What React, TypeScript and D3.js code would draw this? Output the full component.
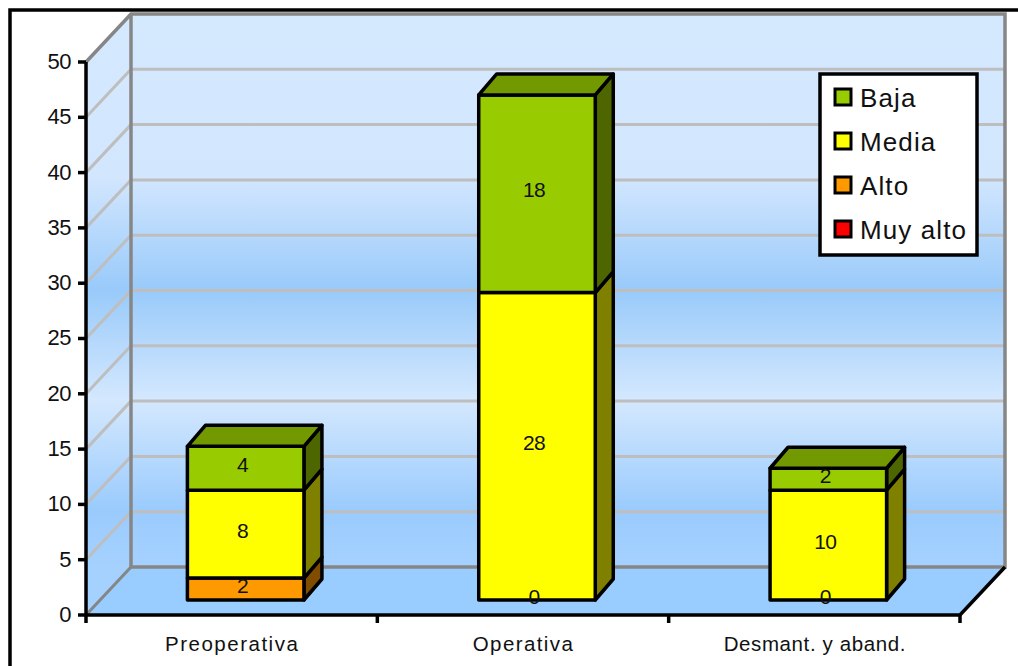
import * as d3 from 'd3';

const categories = ['Preoperativa', 'Operativa', 'Desmant. y aband.'];
const seriesNames = ['Muy alto', 'Alto', 'Media', 'Baja'];
const muyAlto = [0, 0, 0];
const alto = [2, 0, 0];
const media = [8, 28, 10];
const baja = [4, 18, 2];
const yTicks = [0, 5, 10, 15, 20, 25, 30, 35, 40, 45, 50];

const COLORS: Record<string, string> = { 'Muy alto': '#FF0000', Alto: '#FF9900', Media: '#FFFF00', Baja: '#99CC00' };
const SIDE: Record<string, string> = { 'Muy alto': '#800000', Alto: '#804D00', Media: '#808000', Baja: '#4D6600' };
const TOP: Record<string, string> = { 'Muy alto': '#BF0000', Alto: '#BF7300', Media: '#BFBF00', Baja: '#739900' };
const CAT_SPACING = [1.5, 1.4, 0.6];
const FONT = '"Liberation Sans", Arial, sans-serif';

const rows = categories.map((c, i) => ({ cat: c, 'Muy alto': muyAlto[i], Alto: alto[i], Media: media[i], Baja: baja[i] }));
const stacked = d3.stack<any>().keys(seriesNames)(rows);

const left = 86, right = 960, wallDx = 45, barDx = 18, barDy = 21;
const yFront = d3.scaleLinear().domain([0, 50]).range([615, 62]);
const yBack = d3.scaleLinear().domain([0, 50]).range([567, 14]);
const yBar = d3.scaleLinear().domain([0, 50]).range([600, 51]);
const xBand = d3.scaleBand<string>().domain(categories).range([left, right]);
const barW = xBand.bandwidth() * 0.4;
const barX = (c: string) => xBand(c)! + (xBand.bandwidth() - barW) / 2 + 14;
const poly = (pts: [number, number][]) => d3.line()(pts) + 'Z';

// Muy alto has no labels, every other segment prints its value, zeros included
const labelSeries: Record<string, boolean[]> = {
  'Muy alto': [false, false, false],
  Alto: [true, true, true],
  Media: [true, true, true],
  Baja: [true, true, true],
};

export default function App() {
  const wallGrad = [
    [14, '#D4E8FE'], [178, '#D2E6FE'], [290, '#99CAFA'], [400, '#D4E8FE'], [510, '#9ACBFD'], [567, '#A5D1FF'], [615, '#A5D1FF'],
  ] as [number, string][];
  const legend = [...seriesNames].reverse();
  const legendY = d3.scalePoint<string>().domain(legend).range([97, 229]);

  return (
    <svg width={1018} height={666} style={{ position: 'absolute', left: 0, top: 0, background: '#fff', fontFamily: FONT }}>
      <defs>
        <linearGradient id="wall" gradientUnits="userSpaceOnUse" x1={0} x2={0} y1={14} y2={615}>
          {wallGrad.map(([y, c]) => <stop key={y} offset={(y - 14) / 601} stopColor={c} />)}
        </linearGradient>
      </defs>

      {/* chart frame */}
      <path d="M10,666V10H1018" fill="none" stroke="#000" strokeWidth={3.5} />

      {/* walls and floor */}
      <path d={poly([[left + wallDx, yBack(50)], [right + wallDx, yBack(50)], [right + wallDx, yBack(0)], [left + wallDx, yBack(0)]])} fill="url(#wall)" />
      <path d={poly([[left, yFront(50)], [left + wallDx, yBack(50)], [left + wallDx, yBack(0)], [left, yFront(0)]])} fill="url(#wall)" />
      <path d={poly([[left, yFront(0)], [left + wallDx, yBack(0)], [right + wallDx, yBack(0)], [right, yFront(0)]])} fill="#99CCFF" />

      {yTicks.filter((t) => t > 0 && t < 50).map((t) => (
        <path key={t} d={`M${left},${yFront(t)}L${left + wallDx},${yBack(t)}H${right + wallDx}`} fill="none" stroke="#BEBEBE" strokeWidth={3} />
      ))}
      <path d={`M${left},${yFront(50)}L${left + wallDx},${yBack(50)}H${right + wallDx}V${yBack(0)}H${left + wallDx}V${yBack(50)}`} fill="none" stroke="#868686" strokeWidth={3.5} />
      <path d={`M${left},${yFront(0)}L${left + wallDx},${yBack(0)}`} fill="none" stroke="#868686" strokeWidth={3} />

      {/* axes */}
      <path d={`M${left},${yFront(50)}V${yFront(0)}H${right}L${right + wallDx},${yBack(0)}`} fill="none" stroke="#000" strokeWidth={3.5} />
      {yTicks.map((t) => (
        <g key={t}>
          <line x1={left - 8} x2={left} y1={yFront(t)} y2={yFront(t)} stroke="#000" strokeWidth={3.5} />
          <text x={left - 15} y={yFront(t) - 1} dy="0.36em" textAnchor="end" fontSize={22} letterSpacing={-0.5} fill="#111">{t}</text>
        </g>
      ))}
      {[...categories.map((c) => xBand(c)!), right].map((x) => (
        <line key={x} x1={x} x2={x} y1={yFront(0)} y2={yFront(0) + 8} stroke="#000" strokeWidth={3.5} />
      ))}
      {categories.map((c, i) => (
        <text key={c} x={xBand(c)! + xBand.bandwidth() / 2 + 0.5} y={651} textAnchor="middle" fontSize={20.5} letterSpacing={CAT_SPACING[i]} fill="#111">{c}</text>
      ))}

      {/* stacked bars */}
      {categories.map((c, i) => {
        const x0 = barX(c), x1 = x0 + barW;
        const segs = stacked.filter((s) => s[i][1] > s[i][0]);
        const topSeg = segs[segs.length - 1];
        const yTop = yBar(topSeg[i][1]);
        return (
          <g key={c} stroke="#000" strokeWidth={3.5} strokeLinejoin="round">
            {segs.map((s) => {
              const y0 = yBar(s[i][0]), y1 = yBar(s[i][1]);
              return (
                <g key={s.key}>
                  <path d={poly([[x1, y0], [x1 + barDx, y0 - barDy], [x1 + barDx, y1 - barDy], [x1, y1]])} fill={SIDE[s.key]} />
                  <path d={poly([[x0, y0], [x1, y0], [x1, y1], [x0, y1]])} fill={COLORS[s.key]} />
                </g>
              );
            })}
            <path d={poly([[x0, yTop], [x0 + barDx, yTop - barDy], [x1 + barDx, yTop - barDy], [x1, yTop]])} fill={TOP[topSeg.key]} />
          </g>
        );
      })}

      {/* value labels */}
      {stacked.map((s) => categories.map((c, i) => {
        if (!labelSeries[s.key][i]) return null;
        return (
          <text key={s.key + c} x={barX(c) + barW / 2 - 3} y={yBar((s[i][0] + s[i][1]) / 2) - 4} dy="0.36em" textAnchor="middle" fontSize={21} letterSpacing={-0.6} fill="#111">
            {s[i][1] - s[i][0]}
          </text>
        );
      }))}

      {/* legend */}
      <rect x={820} y={74} width={157} height={181} fill="#fff" stroke="#000" strokeWidth={3.5} />
      {legend.map((name) => (
        <g key={name}>
          <rect x={835} y={legendY(name)! - 8} width={16} height={16} fill={COLORS[name]} stroke="#000" strokeWidth={3} />
          <text x={860} y={legendY(name)! + 1} dy="0.36em" fontSize={26} letterSpacing={1.1} fill="#111">{name}</text>
        </g>
      ))}
    </svg>
  );
}
